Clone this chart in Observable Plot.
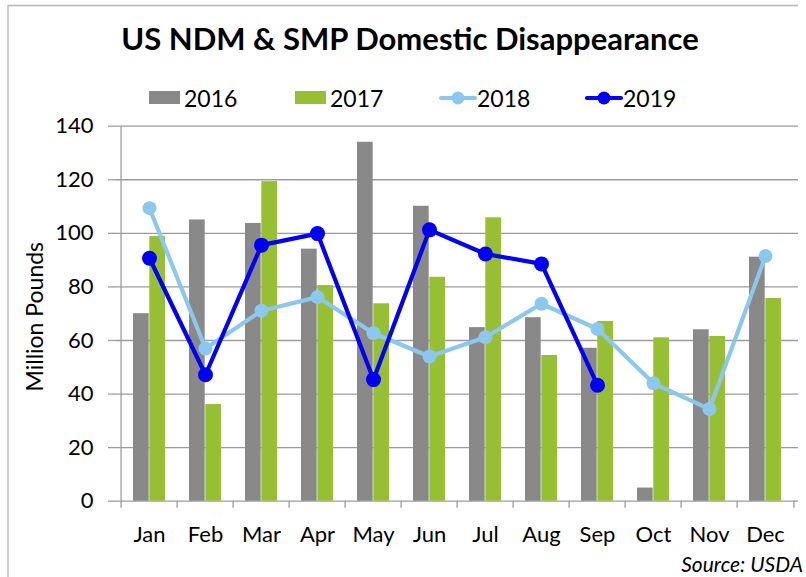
<!DOCTYPE html>
<html><head><meta charset="utf-8">
<script src="https://cdn.jsdelivr.net/npm/d3@7"></script>
<script src="https://cdn.jsdelivr.net/npm/@observablehq/plot@0.6"></script>
<style>
body{margin:0;background:#fff;}
#wrap{position:relative;width:806px;height:577px;overflow:hidden;font-family:Lato,sans-serif;background:#fff;}
#wrap svg{position:absolute;left:0;top:0;}
</style></head><body><div id="wrap"></div>
<script>
const months = ["Jan","Feb","Mar","Apr","May","Jun","Jul","Aug","Sep","Oct","Nov","Dec"];
const years = ["2016","2017","2018","2019"];
const v2016 = [70,105,103.7,94.1,134,110.1,64.8,68.5,57.1,4.9,64,91.1];
const v2017 = [98.8,36.1,119.3,80.5,73.7,83.6,105.8,54.4,67.1,61,61.5,75.7];
const v2018 = [109.4,57,71.1,76.2,62.7,54,61.2,73.7,64.3,44,34.4,91.5];
const v2019 = [90.7,47.2,95.6,99.9,45.4,101.3,92.3,88.6,43.3];
const yTicks = [0,20,40,60,80,100,120,140];
const colors = {"2016":"#898989","2017":"#97BF34","2018":"#8CC7EE","2019":"#0000F5"};
const titleText = "US NDM & SMP Domestic Disappearance";
const yLabel = "Million Pounds";
const sourceText = "Source: USDA";

const rows = (vals) => vals.map((v, i) => ({month: months[i], value: v}));
const d2016 = rows(v2016), d2017 = rows(v2017), d2018 = rows(v2018), d2019 = rows(v2019);

const W = 806, H = 577;
const mL = 116, mR = 8, mT = 125.7, mB = 76.3;
const step = (W - mL - mR) / months.length;
const padIn = 0.426;
const half = step * (1 - padIn) / 2;
const grid = "#9c9c9c";

const chart = Plot.plot({
  width: W, height: H,
  marginTop: mT, marginBottom: mB, marginLeft: mL, marginRight: mR,
  style: {fontFamily: "Lato, sans-serif", background: "transparent", overflow: "visible", color: "#000"},
  x: {domain: months, paddingInner: padIn, paddingOuter: padIn / 2},
  y: {domain: [0, 140]},
  marks: [
    Plot.gridY(yTicks, {stroke: grid, strokeOpacity: 1, strokeWidth: 1.3}),
    Plot.axisY(yTicks, {tickSize: 8, tickPadding: 15, fontSize: 22, stroke: grid, strokeWidth: 1.3, fill: "#000", label: null}),
    Plot.axisX({tickSize: 0, tickPadding: 25, fontSize: 22, fill: "#000", label: null}),
    Plot.ruleX(months, {dx: -step / 2, y1: 0, y2: -2.6, stroke: grid, strokeWidth: 1.3}),
    Plot.ruleX([months[months.length - 1]], {dx: step / 2, y1: 0, y2: -2.6, stroke: grid, strokeWidth: 1.3}),
    Plot.ruleX([months[0]], {dx: -step / 2, y1: 0, y2: 140, stroke: grid, strokeWidth: 1.3}),
    Plot.barY(d2016, {x: "month", y: "value", fill: colors["2016"], insetRight: half}),
    Plot.barY(d2017, {x: "month", y: "value", fill: colors["2017"], insetLeft: half}),
    Plot.line(d2018, {x: "month", y: "value", stroke: colors["2018"], strokeWidth: 4.2}),
    Plot.dot(d2018, {x: "month", y: "value", fill: colors["2018"], r: 7}),
    Plot.line(d2019, {x: "month", y: "value", stroke: colors["2019"], strokeWidth: 4.2}),
    Plot.dot(d2019, {x: "month", y: "value", fill: colors["2019"], r: 7.5}),
    Plot.text([yLabel], {frameAnchor: "left", rotate: -90, dx: -80.5, dy: 3, fontSize: 23, fill: "#000", textAnchor: "middle", lineAnchor: "middle"})
  ]
});
const wrap = document.getElementById("wrap");
wrap.appendChild(chart);

// overlay: frame, title, legend, source
const ov = d3.select(wrap).append("svg").attr("width", W).attr("height", H)
  .style("font-family", "Lato, sans-serif").style("pointer-events", "none");
ov.append("path").attr("d", `M8,${H} L8,5.5 L798,5.5`).attr("fill", "none").attr("stroke", "#b5b5b5").attr("stroke-width", 1.3);
ov.append("text").attr("x", 410).attr("y", 50).attr("text-anchor", "middle")
  .attr("font-size", 31).attr("font-weight", "bold").attr("fill", "#000").text(titleText);

const legendStart = 149, legendStep = 146, ly = 107;
years.forEach((yr, i) => {
  let lx = legendStart + i * legendStep;
  if (i < 2) {
    ov.append("rect").attr("x", lx).attr("y", 91).attr("width", 31).attr("height", 13).attr("fill", colors[yr]);
    lx += 31 + 4;
  } else {
    ov.append("line").attr("x1", lx).attr("x2", lx + 34).attr("y1", 98).attr("y2", 98)
      .attr("stroke", colors[yr]).attr("stroke-width", 4.2).attr("stroke-linecap", "round");
    ov.append("circle").attr("cx", lx + 17).attr("cy", 98).attr("r", 6.5).attr("fill", colors[yr]);
    lx += 34 + 2;
  }
  ov.append("text").attr("x", lx).attr("y", ly).attr("font-size", 23).attr("fill", "#000").text(yr);
});

ov.append("text").attr("x", 803).attr("y", 572).attr("text-anchor", "end")
  .attr("font-size", 21).attr("font-style", "italic").attr("fill", "#000").text(sourceText);
</script></body></html>
